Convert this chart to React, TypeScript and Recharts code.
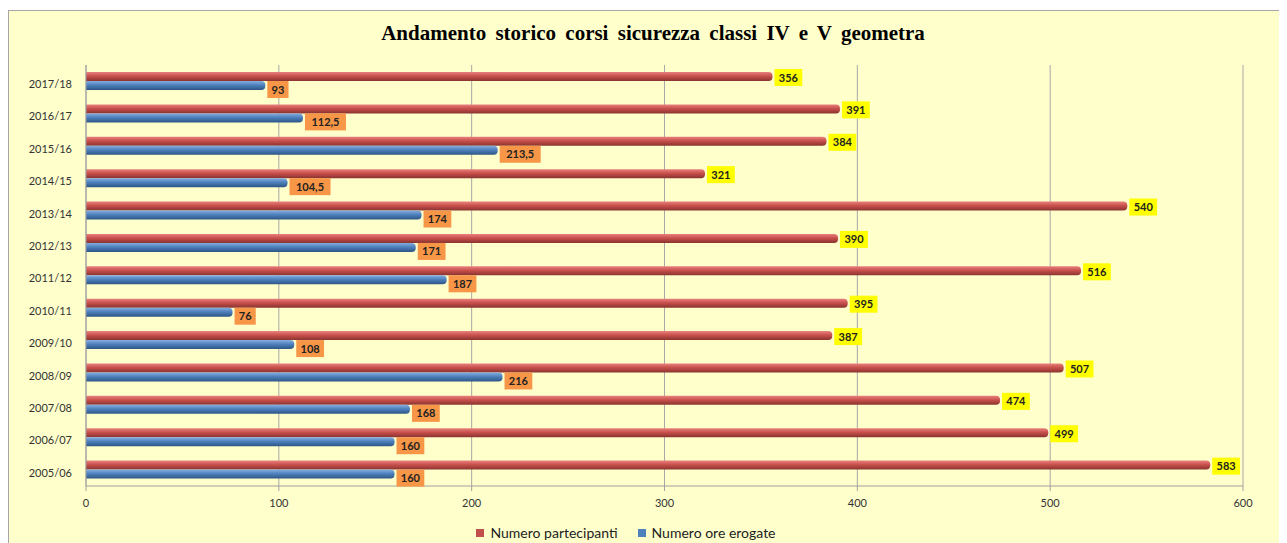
import React from 'react';
import { BarChart, Bar, XAxis, YAxis, CartesianGrid, Legend, LabelList } from 'recharts';

const anni = ['2005/06', '2006/07', '2007/08', '2008/09', '2009/10', '2010/11', '2011/12', '2012/13', '2013/14', '2014/15', '2015/16', '2016/17', '2017/18'];
const partecipanti = [583, 499, 474, 507, 387, 395, 516, 390, 540, 321, 384, 391, 356];
const oreErogate = [160, 160, 168, 216, 108, 76, 187, 171, 174, 104.5, 213.5, 112.5, 93];
const xTicks = [0, 100, 200, 300, 400, 500, 600];
const serie = [
  { key: 'partecipanti', name: 'Numero partecipanti', color: '#C0504D' },
  { key: 'ore', name: 'Numero ore erogate', color: '#4F81BD' }
];

const chartData = anni.map((anno, i) => ({
  anno,
  partecipanti: partecipanti[i],
  ore: oreErogate[i]
}));

const fmt = (v: number) => String(v).replace('.', ',');

const makeLabel = (bg: string, dyBox: number) => (props: any) => {
  const { x, y, width, height, value } = props;
  const txt = fmt(Number(value));
  const w = txt.length * 6.6 + 8;
  const bx = x + width + 2;
  const cy = y + height / 2 + dyBox;
  return (
    <g>
      <rect x={bx} y={cy - 8.5} width={w} height={17} fill={bg} />
      <text x={bx + w / 2} y={cy + 4} textAnchor="middle" fontSize={11} fontWeight="bold" fill="#222" fontFamily="Lato, 'Open Sans', sans-serif">
        {txt}
      </text>
    </g>
  );
};

const LegendContent = () => (
  <div style={{ display: 'flex', justifyContent: 'center', gap: 20, fontSize: 14, color: '#222', marginTop: 4 }}>
    {serie.map((s) => (
      <span key={s.key} style={{ display: 'flex', alignItems: 'center' }}>
        <span style={{ width: 8, height: 8, background: s.color, marginRight: 6, display: 'inline-block' }} />
        {s.name}
      </span>
    ))}
  </div>
);

const App: React.FC = () => {
  return (
    <div
      style={{
        position: 'relative',
        marginTop: 2,
        width: 1290,
        height: 540,
        background: '#FFFFCC',
        border: '1px solid #A6A6A6',
        boxSizing: 'border-box',
        fontFamily: "Lato, 'Open Sans', sans-serif"
      }}
    >
      <div
        style={{
          position: 'absolute',
          top: 10,
          left: 0,
          width: 1288,
          textAlign: 'center',
          fontFamily: "'Liberation Serif', 'DejaVu Serif', serif",
          fontWeight: 'bold',
          fontSize: 21,
          lineHeight: '24px',
          wordSpacing: 4,
          color: '#000'
        }}
      >
        Andamento storico corsi sicurezza classi IV e V geometra
      </div>
      <BarChart
        width={1288}
        height={533}
        data={chartData}
        layout="vertical"
        margin={{ top: 54, right: 54, bottom: 4, left: 0 }}
        barSize={9}
        barGap={0}
      >
        <defs>
          <linearGradient id="gradRed" x1="0" y1="0" x2="0" y2="1">
            <stop offset="0%" stopColor="#E8827F" />
            <stop offset="45%" stopColor="#C9504C" />
            <stop offset="100%" stopColor="#8A3330" />
          </linearGradient>
          <linearGradient id="gradBlue" x1="0" y1="0" x2="0" y2="1">
            <stop offset="0%" stopColor="#86AEE0" />
            <stop offset="45%" stopColor="#4F81BD" />
            <stop offset="100%" stopColor="#2C5686" />
          </linearGradient>
        </defs>
        <CartesianGrid vertical horizontal={false} stroke="#A8A8A8" />
        <XAxis
          type="number"
          domain={[0, 600]}
          ticks={xTicks}
          height={34}
          stroke="#A0A0A0"
          tickSize={5}
          tickMargin={8}
          tick={{ fontSize: 11, fill: '#333' }}
        />
        <YAxis
          type="category"
          dataKey="anno"
          reversed
          width={77}
          stroke="#A0A0A0"
          tickLine={false}
          tickSize={0}
          tickMargin={14}
          tick={{ fontSize: 11, fill: '#333', dy: 3 }}
        />
        <Legend height={20} content={<LegendContent />} />
        <Bar
          dataKey="partecipanti"
          name="Numero partecipanti"
          fill="url(#gradRed)"
          radius={[0, 4, 4, 0]}
          isAnimationActive={false}
        >
          <LabelList dataKey="partecipanti" content={makeLabel('#FFFF00', 1)} />
        </Bar>
        <Bar
          dataKey="ore"
          name="Numero ore erogate"
          fill="url(#gradBlue)"
          radius={[0, 4, 4, 0]}
          isAnimationActive={false}
        >
          <LabelList dataKey="ore" content={makeLabel('#F79646', 4)} />
        </Bar>
      </BarChart>
    </div>
  );
};

export default App;
